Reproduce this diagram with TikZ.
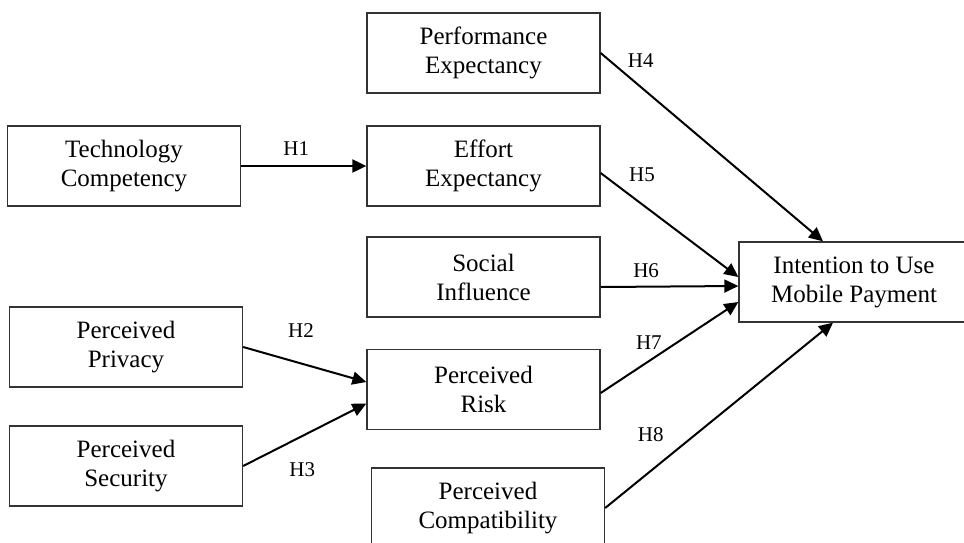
\documentclass[tikz,border=0pt]{standalone}
\usepackage{fontspec}
\setmainfont{Liberation Serif}
\usepackage{xcolor}
\usetikzlibrary{arrows.meta,positioning}

\begin{document}
\begin{tikzpicture}[x=0.5pt,y=-0.5pt,
    -{Triangle[length=7pt,width=6.5pt]},line width=1pt,on grid,
    box/.style={draw=black!80,line width=0.65pt,rectangle,align=center,
      minimum width=116.5pt,minimum height=40pt,inner sep=0pt,
      font=\fontsize{12.5}{14.5}\selectfont},
    hyp/.style={inner sep=0pt,font=\fontsize{10.5}{12}\selectfont}]
   \useasboundingbox (0,0) rectangle (964,542);
   \node[box] (PE) at (483.5,53) {Performance\\Expectancy};
   \node[box] (EE) [below=56.5pt of PE] {Effort\\Expectancy};
   \node[box] (SI) [below=55.5pt of EE] {Social\\Influence};
   \node[box] (PR) [below=56.25pt of SI] {Perceived\\Risk};
   \node[box] (TC) [left=179.75pt of EE] {Technology\\Competency};
   \node[box] (PP) at (126,347) {Perceived\\Privacy};
   \node[box] (PS) [below=59.5pt of PP] {Perceived\\Security};
   \node[box] (PC) at (488,508) {Perceived\\Compatibility};
   \node[box,minimum width=115pt] (IU) at (854,282) {Intention to Use\\Mobile Payment};
    \path
    (TC) edge node[hyp,pos=.44,yshift=8.5pt] {H1} (EE)
    (PP.east) edge node[hyp,pos=.47,yshift=16.7pt] {H2} ([yshift=3.75pt]PR.west)
    (PS.east) edge node[hyp,pos=.48,yshift=-16.8pt] {H3} ([yshift=-7pt]PR.west)
    (PE.east) edge node[hyp,pos=.18,yshift=13.4pt] {H4} ([xshift=-15.5pt]IU.north)
    ([yshift=-3.5pt]EE.east) edge node[hyp,pos=.30,yshift=14.5pt] {H5} ([yshift=2.5pt]IU.west)
    ([yshift=-5pt]SI.east) edge node[hyp,pos=.33,yshift=8pt] {H6} ([yshift=-2pt]IU.west)
    ([yshift=-1.75pt]PR.east) edge node[hyp,pos=.35,yshift=9.5pt] {H7} ([yshift=-10pt]IU.west)
    (PC.east) edge node[hyp,pos=.2,yshift=18pt] {H8} ([xshift=-10.5pt]IU.south);
\end{tikzpicture}
\end{document}
